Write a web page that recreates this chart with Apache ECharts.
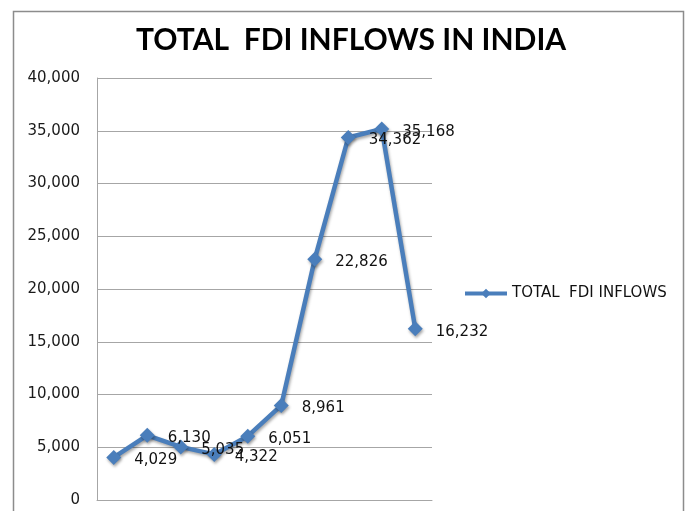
<!DOCTYPE html>
<html>
<head>
<meta charset="utf-8">
<script src="https://cdn.jsdelivr.net/npm/echarts@6/dist/echarts.min.js"></script>
<style>
html,body{margin:0;padding:0;background:#fff;}
#chart{width:688px;height:511px;}
</style>
</head>
<body>
<div id="chart"></div>
<script>
var categories = ['2000-01','2001-02','2002-03','2003-04','2004-05','2005-06','2006-07','2007-08','2008-09','2009-10'];
var fdiInflows = [4029, 6130, 5035, 4322, 6051, 8961, 22826, 34362, 35168, 16232];
var seriesName = 'TOTAL  FDI INFLOWS';
var chartTitle = 'TOTAL  FDI INFLOWS IN INDIA';

var chart = echarts.init(document.getElementById('chart'), null, {renderer: 'canvas'});
chart.setOption({
  animation: false,
  backgroundColor: '#ffffff',
  graphic: [{
    type: 'rect',
    shape: {x: 13.5, y: 11.5, width: 670, height: 520},
    style: {fill: 'none', stroke: '#8c8c8c', lineWidth: 1.5},
    silent: true,
    z: -1
  }],
  title: {
    text: chartTitle,
    left: 136,
    top: 25,
    padding: 0,
    textStyle: {fontFamily: 'Lato', fontWeight: 'bold', fontSize: 30, color: '#000'}
  },
  legend: {
    data: [seriesName],
    left: 458,
    top: 281,
    itemWidth: 42,
    itemHeight: 12,
    itemGap: 2,
    lineStyle: {width: 4},
    itemStyle: {shadowBlur: 0},
    textStyle: {fontFamily: 'DejaVu Sans', fontSize: 15, color: '#111'}
  },
  grid: {left: 97, right: 256, top: 78, bottom: 11, containLabel: false},
  xAxis: {
    type: 'category',
    data: categories,
    boundaryGap: true,
    axisLine: {lineStyle: {color: '#a6a6a6', width: 1}},
    axisTick: {show: false},
    axisLabel: {show: false}
  },
  yAxis: {
    type: 'value',
    min: 0,
    max: 40000,
    interval: 5000,
    axisLine: {show: true, lineStyle: {color: '#a6a6a6', width: 1}},
    axisTick: {show: false},
    splitLine: {lineStyle: {color: '#a6a6a6', width: 1}},
    axisLabel: {
      margin: 17,
      fontFamily: 'DejaVu Sans',
      fontSize: 15,
      color: '#1a1a1a',
      formatter: function (v) { return v.toLocaleString('en-US'); }
    }
  },
  series: [{
    name: seriesName,
    type: 'line',
    data: fdiInflows,
    symbol: 'diamond',
    symbolSize: 15,
    itemStyle: {color: '#4a7ebb', shadowColor: 'rgba(0,0,0,0.35)', shadowBlur: 3, shadowOffsetX: 1, shadowOffsetY: 2},
    lineStyle: {color: '#4a7ebb', width: 4.5, shadowColor: 'rgba(0,0,0,0.35)', shadowBlur: 3, shadowOffsetX: 1, shadowOffsetY: 2},
    label: {
      show: true,
      position: 'right',
      distance: 13,
      fontFamily: 'DejaVu Sans',
      fontSize: 15,
      color: '#111',
      formatter: function (p) { return p.value.toLocaleString('en-US'); }
    },
    labelLayout: {hideOverlap: false, dy: 3}
  }]
});
</script>
</body>
</html>
